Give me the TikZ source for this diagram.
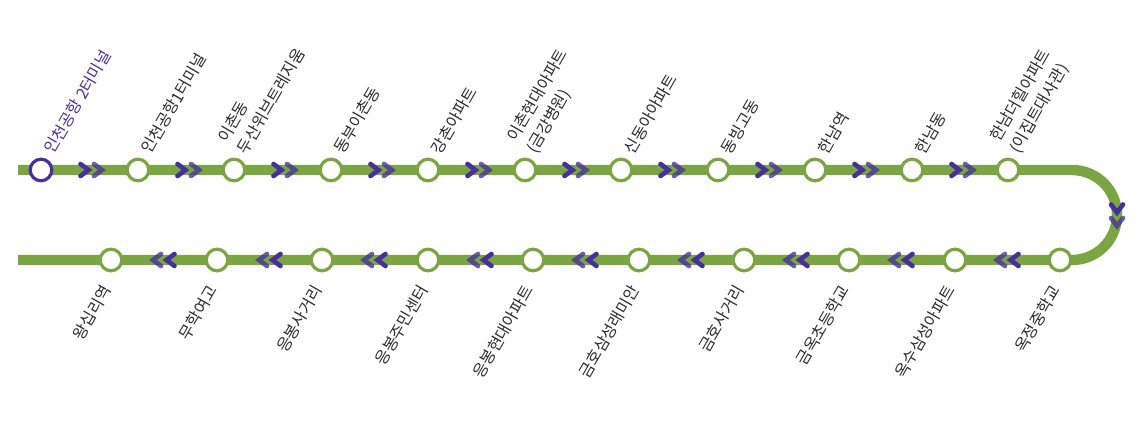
\documentclass[tikz,border=0pt]{standalone}
\usepackage{fontspec}
\setmainfont{Noto Sans CJK KR}
\definecolor{linegreen}{HTML}{7BA443}
\definecolor{startpurple}{HTML}{46319A}
\definecolor{labelgray}{HTML}{2B2B2B}
\tikzset{
    station/.style={circle, draw=linegreen, fill=white, line width=2.4pt, minimum size=16.2pt, inner sep=0pt},
    stopname/.style={rotate=60, font=\fontsize{12pt}{17pt}\selectfont, text=labelgray, align=left, inner sep=0pt},
    chevs/.pic={
        \draw[startpurple, line width=3.5pt, line cap=round] (2.5,6) -- (10.5,0) -- (2.5,-6);
        \draw[startpurple, opacity=0.78, line width=3.5pt, line cap=round] (16,6) -- (24,0) -- (16,-6);
    }
}

\begin{document}
\begin{tikzpicture}[x=0.75pt, y=0.75pt]
        \useasboundingbox (0,0) rectangle (1141,424);

        % Track
        \coordinate (topstart) at (18,254);
        \coordinate (topturn) at (1072,254);
        \coordinate (botstart) at (18,164);
        \draw[linegreen, line width=7.8pt] (topstart) -- (topturn) arc[start angle=90, end angle=-90, radius=45] -- (botstart);

        % Direction marks, upper row
        \foreach \x in {41,138,234,331,428,525,621,718,815,912} {
            \pic at (\x+37,254) {chevs};
        }
        % Direction mark in the bend
        \pic[rotate=-90] at (1117,222) {chevs};
        % Direction marks, lower row
        \foreach \x in {111,217,322,428,533,639,744,849,955} {
            \pic[rotate=180] at (\x+66,164) {chevs};
        }

        % Upper row stops
        \foreach \x/\stopname in {138/인천공항1터미널,234/{이촌동\\두산위브트레지움},331/동부이촌동,428/강촌아파트,525/{이촌현대아파트\\(금강병원)},621/신동아아파트,718/동빙고동,815/한남역,912/한남동,1008/{한남더힐아파트\\(이집트대사관)}} {
            \node[station] (t\x) at (\x,254) {};
            \node[stopname, anchor=south west] (n\x) at (\x+14,268) {\stopname};
        }

        % First stop
        \node[station, draw=startpurple] (t41) at (41,254) {};
        \node[stopname, anchor=south west, text=startpurple] (n41) at (55,268) {인천공항 2터미널};

        % Lower row stops
        \foreach \x/\stopname in {111/왕십리역,217/무학여고,322/응봉사거리,428/응봉주민센터,533/응봉현대아파트,639/금호삼성래미안,744/금호사거리,849/금옥초등학교,955/옥수삼성아파트,1060/옥정중학교} {
            \node[station] (b\x) at (\x,164) {};
            \node[stopname, anchor=east] (m\x) at (\x-4,137) {\stopname};
        }
    \end{tikzpicture}
\end{document}
